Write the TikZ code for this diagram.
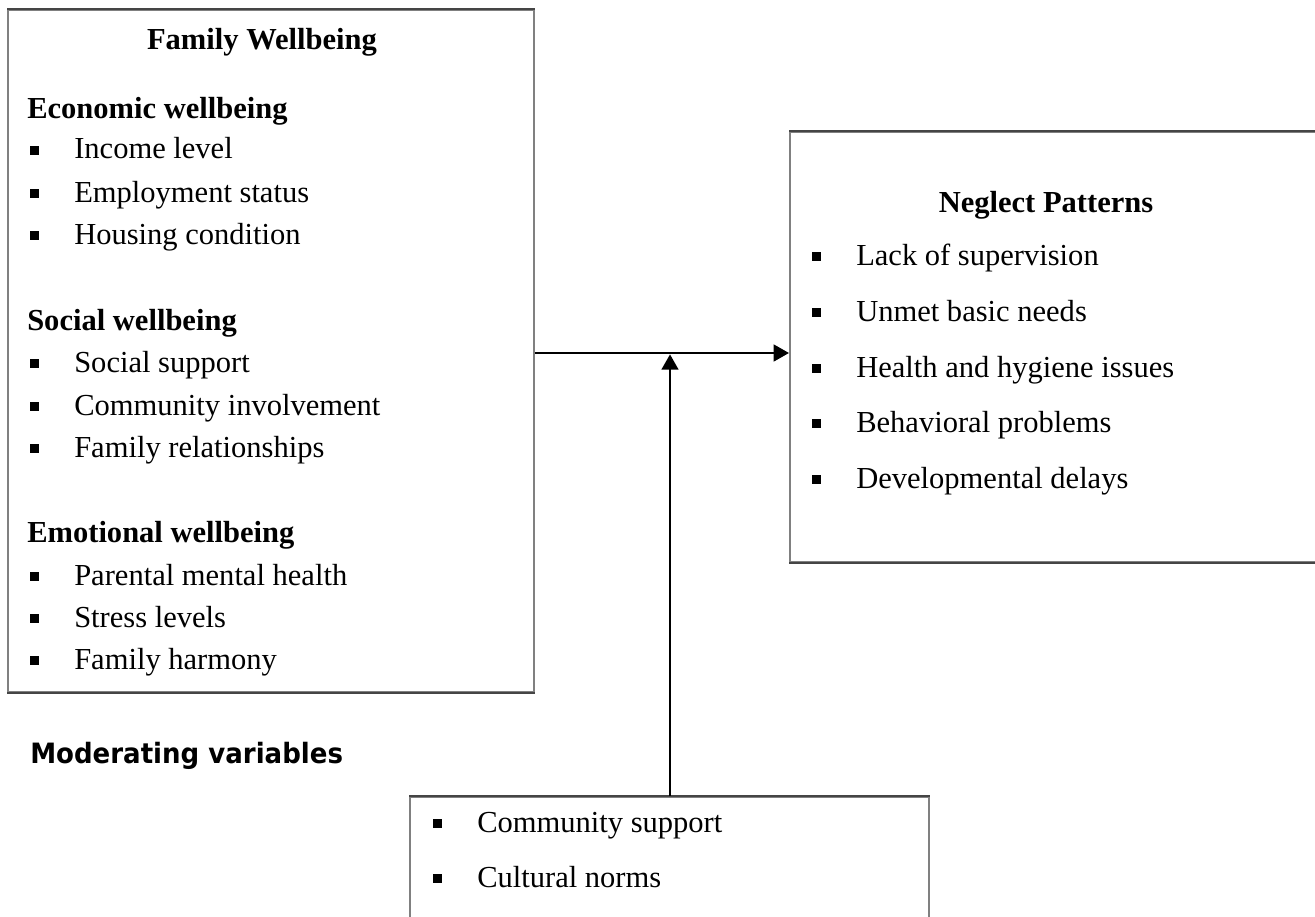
\documentclass[tikz,border=0pt]{standalone}
\usepackage{fontspec}
\usepackage{graphicx}
\setmainfont{Liberation Serif}
\newfontfamily\modfont{DejaVu Sans}
\usetikzlibrary{arrows.meta,fit}
\definecolor{sidegray}{HTML}{808080}
\definecolor{edgedark}{HTML}{454545}
\newcommand{\bulsq}{\makebox[33pt][l]{\rule[3.3pt]{6.5pt}{6.5pt}}}
\begin{document}
\begin{tikzpicture}[x=0.75pt,y=-0.75pt,
  box/.style={draw=sidegray, line width=1.5pt, inner sep=0pt},
  hedge/.style={draw=edgedark, line width=1.5pt},
  txt/.style={font=\fontsize{22.9pt}{27pt}\selectfont, inner sep=0pt, anchor=base west},
  head/.style={font=\fontsize{22.9pt}{27pt}\selectfont\bfseries, inner sep=0pt, anchor=base west},
  arr/.style={line width=1.9pt, -{Triangle[length=11.5pt,width=12.5pt]}}]
\clip (0,0) rectangle (1315,917);
\fill[white] (0,0) rectangle (1315,917);

% ---- boxes
\coordinate (fwNW) at (8,10);   \coordinate (fwSE) at (534,692);
\coordinate (npNW) at (790,132); \coordinate (npSE) at (1330,562);
\coordinate (mvNW) at (410,797); \coordinate (mvSE) at (929,930);
\node[box, fit=(fwNW)(fwSE)] (fw) {};
\node[box, fit=(npNW)(npSE)] (np) {};
\node[box, fit=(mvNW)(mvSE)] (mv) {};
\draw[hedge] (fw.north west) -- (fw.north east);
\draw[hedge] (fw.south west) -- (fw.south east);
\draw[hedge] (np.north west) -- (np.north east);
\draw[hedge] (np.south west) -- (np.south east);
\draw[hedge] (mv.north west) -- (mv.north east);

% ---- Family Wellbeing text
\node[head, anchor=base] (fwt) at (262,50) {Family Wellbeing};
\node[head] (eco) at (27,118) {Economic wellbeing};
\node[txt] (e1) at (30,159) {\bulsq Income level};
\node[txt] (e2) at (30,202) {\bulsq Employment status};
\node[txt] (e3) at (30,244) {\bulsq Housing condition};
\node[head] (soc) at (27,330) {Social wellbeing};
\node[txt] (s1) at (30,372) {\bulsq Social support};
\node[txt] (s2) at (30,415) {\bulsq Community involvement};
\node[txt] (s3) at (30,457) {\bulsq Family relationships};
\node[head] (emo) at (27,542) {Emotional wellbeing};
\node[txt] (m1) at (30,585) {\bulsq Parental mental health};
\node[txt] (m2) at (30,627) {\bulsq Stress levels};
\node[txt] (m3) at (30,669) {\bulsq Family harmony};

% ---- Neglect Patterns text
\node[head, anchor=base] (npt) at (1046,212) {Neglect Patterns};
\node[txt] (n1) at (812,265) {\bulsq Lack of supervision};
\node[txt] (n2) at (812,321) {\bulsq Unmet basic needs};
\node[txt] (n3) at (812,377) {\bulsq Health and hygiene issues};
\node[txt] (n4) at (812,432) {\bulsq Behavioral problems};
\node[txt] (n5) at (812,488) {\bulsq Developmental delays};

% ---- Moderating variables
\node[font=\modfont\bfseries\fontsize{21pt}{25pt}\selectfont, inner sep=0pt, anchor=base west] (mvl) at (30,763) {\scalebox{0.93}[1]{Moderating variables}};
\node[txt] (v1) at (433,832) {\bulsq Community support};
\node[txt] (v2) at (433,887) {\bulsq Cultural norms};

% ---- connectors
\coordinate (hy) at (670,353);
\draw[arr] (fw.east |- hy) -- (np.west |- hy);
\draw[arr] (mv.north -| hy) -- ([yshift=-1pt]hy);
\end{tikzpicture}
\end{document}
